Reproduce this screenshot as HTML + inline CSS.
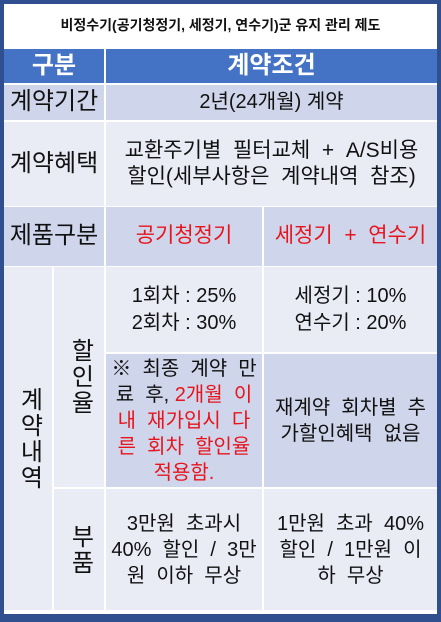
<!DOCTYPE html>
<html><head><meta charset="utf-8"><style>
*{margin:0;padding:0;box-sizing:border-box}
body{width:441px;height:622px;background:#2f4f8f;position:relative;overflow:hidden;font-family:"Liberation Sans","Noto Sans CJK KR",sans-serif}
.c{position:absolute;display:flex;align-items:center;justify-content:center;text-align:center;color:#111;line-height:1.28}
.c>div{white-space:nowrap}
.d{background:#cfd5ea}.l{background:#e9ebf5}
.lab{font-size:24px}
.t{font-size:19px}
.r{color:#e8141c}
.v{writing-mode:vertical-rl;text-orientation:upright;font-size:24px;letter-spacing:2px}
</style></head><body>
<div style="position:absolute;left:4px;top:4px;width:433px;height:610px;background:#fff"></div>
<div class="c" style="left:4px;top:4px;width:433px;height:44px;font-size:14px;font-weight:bold">비정수기(공기청정기, 세정기, 연수기)군 유지 관리 제도</div>
<div class="c" style="left:4px;top:49px;width:100px;height:34px;background:#4472c4;color:#fff;font-size:24px;font-weight:bold">구분</div>
<div class="c" style="left:106px;top:49px;width:331px;height:34px;background:#4472c4;color:#fff;font-size:24px;font-weight:bold">계약조건</div>
<div class="c d lab" style="left:4px;top:85px;width:100px;height:35px">계약기간</div>
<div class="c d t" style="left:106px;top:85px;width:331px;height:35px;font-size:20px">2년(24개월) 계약</div>
<div class="c l lab" style="left:4px;top:122px;width:100px;height:84px">계약혜택</div>
<div class="c l t" style="left:106px;top:122px;width:331px;height:84px;font-size:21px;line-height:1.25"><div>교환주기별&nbsp; 필터교체&nbsp; +&nbsp; A/S비용<br>할인(세부사항은&nbsp; 계약내역&nbsp; 참조)</div></div>
<div class="c d lab" style="left:4px;top:207px;width:100px;height:59px">제품구분</div>
<div class="c d t r" style="left:106px;top:207px;width:156px;height:59px;font-size:21px">공기청정기</div>
<div class="c d t r" style="left:264px;top:207px;width:173px;height:59px;font-size:21px">세정기&nbsp; +&nbsp; 연수기</div>
<div class="c l v" style="left:4px;top:267px;width:48px;height:343px">계약내역</div>
<div class="c l v" style="left:54px;top:267px;width:50px;height:220px">할인율</div>
<div class="c l v" style="left:54px;top:489px;width:50px;height:121px">부품</div>
<div class="c l t" style="left:106px;top:267px;width:156px;height:85px;line-height:1.35;font-size:20px"><div>1회차 : 25%<br>2회차 : 30%</div></div>
<div class="c l t" style="left:264px;top:267px;width:173px;height:85px;line-height:1.35;font-size:20px"><div>세정기 : 10%<br>연수기 : 20%</div></div>
<div class="c d t" style="left:106px;top:354px;width:156px;height:133px;line-height:1.3;font-size:20px"><div>※&nbsp; 최종&nbsp; 계약&nbsp; 만<br>료&nbsp; 후, <span class="r">2개월&nbsp; 이</span><br><span class="r">내&nbsp; 재가입시&nbsp; 다</span><br><span class="r">른&nbsp; 회차&nbsp; 할인율</span><br><span class="r">적용함.</span></div></div>
<div class="c d t" style="left:264px;top:354px;width:173px;height:133px;line-height:1.3;font-size:20px"><div>재계약&nbsp; 회차별&nbsp; 추<br>가할인혜택&nbsp; 없음</div></div>
<div class="c l t" style="left:106px;top:489px;width:156px;height:121px;line-height:1.3;font-size:20px"><div>3만원&nbsp; 초과시<br>40%&nbsp; 할인&nbsp; /&nbsp; 3만<br>원&nbsp; 이하&nbsp; 무상</div></div>
<div class="c l t" style="left:264px;top:489px;width:173px;height:121px;line-height:1.3;font-size:20px"><div>1만원&nbsp; 초과&nbsp; 40%<br>할인&nbsp; /&nbsp; 1만원&nbsp; 이<br>하&nbsp; 무상</div></div>
</body></html>
